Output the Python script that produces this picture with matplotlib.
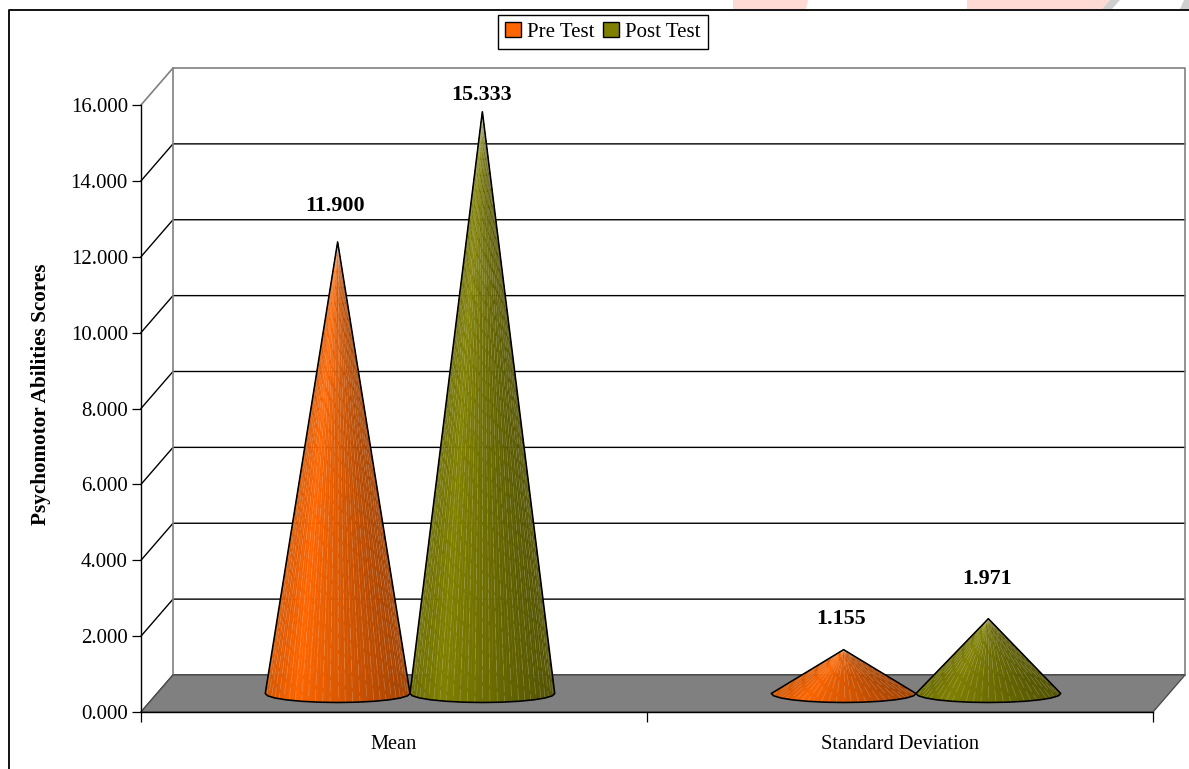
import numpy as np
import matplotlib
matplotlib.use('Agg')
import matplotlib.pyplot as plt
from matplotlib.colors import to_rgb
from matplotlib.collections import PolyCollection, LineCollection
from matplotlib.lines import Line2D
from matplotlib.patches import Patch, Polygon

plt.rcParams['font.family'] = ['Liberation Serif', 'DejaVu Serif']

categories = ['Mean', 'Standard Deviation']
series_names = ['Pre Test', 'Post Test']
pre_test = [11.900, 1.155]
post_test = [15.333, 1.971]
y_ticks = [0, 2, 4, 6, 8, 10, 12, 14, 16]
y_label = 'Psychomotor Abilities Scores'

W, H = 1189, 769
colors = ['#FF6600', '#808000']

fig = plt.figure(figsize=(W / 100, H / 100), dpi=100)
ax = fig.add_axes([141 / W, (H - 712) / H, 1012 / W, 607 / H])
ax.set_xlim(0, 2)
ax.set_ylim(0, 16)

# depth of the fake 3d box, in data units
depth_x = 32 / 506
depth_y = 37 / 37.94

# wall and gridlines
for t in y_ticks[:-1]:
    ax.plot([0, depth_x, 2 + depth_x], [t, t + depth_y, t + depth_y], color='black', lw=1.0,
            clip_on=False, zorder=1)
ax.plot([0, depth_x, 2 + depth_x, 2 + depth_x], [16, 16 + depth_y, 16 + depth_y, depth_y],
        color='#808080', lw=1.2, clip_on=False, zorder=1)
ax.plot([depth_x, depth_x], [depth_y, 16 + depth_y], color='#808080', lw=1.2, clip_on=False, zorder=1)

floor = Polygon([[0, 0], [2, 0], [2 + depth_x, depth_y], [depth_x, depth_y]], closed=True,
                facecolor='#808080', edgecolor='#505050', lw=1.0, clip_on=False, zorder=2)
ax.add_patch(floor)


def shade(u):
    # u runs 0..1 from left to right edge of the cone
    return np.interp(u, [0, 0.22, 0.55, 1], [0.84, 1.0, 0.84, 0.64])


def draw_cone(cx, value, color):
    base_y = depth_y / 2
    a = 0.143
    b = 9 / 37.94
    rgb = np.array(to_rgb(color))
    t = np.linspace(np.pi, 2 * np.pi, 61)
    xs = cx + a * np.cos(t)
    ys = base_y + b * np.sin(t)
    polys = []
    cols = []
    for i in range(60):
        polys.append([[cx, value + base_y], [xs[i], ys[i]], [xs[i + 1], ys[i + 1]]])
        u = 0.5 * (np.cos(t[i]) + np.cos(t[i + 1])) / 2 + 0.5
        cols.append(rgb * shade(u))
    ax.add_collection(PolyCollection(polys, facecolors=cols, edgecolors=cols, linewidths=0.3,
                                     clip_on=False, zorder=3))
    # pale streaks running up to the tip
    segs = [[[xs[i], ys[i]], [cx, value + base_y]] for i in range(2, 60, 2)]
    styles = [(2 + 6 * (i % 4), (16, 5)) for i in range(len(segs))]
    ax.add_collection(LineCollection(segs, colors=[(1, 1, 1, 0.22)], linewidths=0.55,
                                     linestyles=styles, clip_on=False, zorder=4))
    # outline with a coarser base
    k = np.arange(0, 61, 5)
    outline = [[cx, value + base_y]] + list(zip(xs[k], ys[k]))
    ax.add_patch(Polygon(outline, closed=True, fill=False, edgecolor='black', lw=1.15,
                         joinstyle='round', clip_on=False, zorder=5))


label_offsets = [[(-3, 36), (-1, 17)], [(-3, 31), (-1, 40)]]
for c in range(len(categories)):
    for s, values in enumerate([pre_test, post_test]):
        cx = c + 0.5 + depth_x / 2 + (s - 0.5) * 0.286
        draw_cone(cx, values[c], colors[s])
        off = label_offsets[c][s]
        ax.annotate(f'{values[c]:.3f}', (cx, values[c] + depth_y / 2), xytext=off,
                    textcoords='offset pixels', ha='center', va='center', fontsize=15.8,
                    fontweight='bold', annotation_clip=False, zorder=6)

ax.set_yticks(y_ticks)
ax.set_yticklabels([f'{t:.3f}' for t in y_ticks], fontsize=15)
ax.set_xticks([0, 1, 2])
ax.set_xticklabels([])
ax.set_xticks([0.5, 1.5], categories, minor=True, fontsize=14.7)
ax.tick_params(axis='x', which='minor', length=0, pad=16.5)
ax.tick_params(axis='x', which='major', length=7, width=0.9, color='black')
ax.tick_params(axis='y', length=6.5, width=0.9, pad=3)
ax.patch.set_visible(False)
for side in ['top', 'right']:
    ax.spines[side].set_visible(False)
for side in ['left', 'bottom']:
    ax.spines[side].set_linewidth(1.0)
    ax.spines[side].set_zorder(2.5)
ax.set_ylabel(y_label, fontsize=15.3, fontweight='bold')
ax.yaxis.set_label_coords(-0.089, 0.524)

fig.legend(handles=[Patch(facecolor=colors[0], edgecolor='black', label=series_names[0]),
                    Patch(facecolor=colors[1], edgecolor='black', label=series_names[1])],
           loc='center', bbox_to_anchor=(603 / W, 1 - 32 / H), ncol=2, fontsize=15, frameon=True,
           fancybox=False, framealpha=1, edgecolor='black', handlelength=0.75, handleheight=0.75,
           handletextpad=0.3, columnspacing=0.4, borderpad=0.34, borderaxespad=0)

# page edge: frame and the faint marks above it
page_marks = [([733, 806, 808, 733], '#FFD9D3'),
              ([967, 1102, 1110, 967], '#FFD9D3'),
              ([1102, 1112, 1120, 1110], '#CFCFCF'),
              ([1180, 1189, 1189, 1184], '#CFCFCF')]
for xs, col in page_marks:
    pts = [(xs[0] / W, 1 - 9 / H), (xs[1] / W, 1 - 9 / H), (xs[2] / W, 1), (xs[3] / W, 1)]
    fig.add_artist(Polygon(pts, closed=True, facecolor=col, edgecolor='none', transform=fig.transFigure))
fig.add_artist(Line2D([9 / W, 9 / W, 1], [0, 1 - 10 / H, 1 - 10 / H], color='black', lw=1.3))

fig.savefig('out.png', dpi=100)
